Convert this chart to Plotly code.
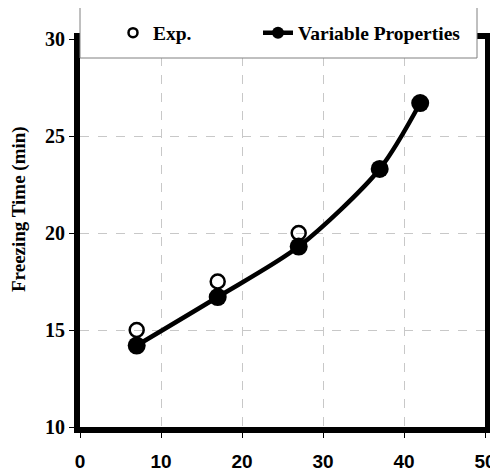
import plotly.graph_objects as go

exp_x = [7, 17, 27]
exp_y = [15.0, 17.5, 20.0]
var_x = [7, 17, 27, 37, 42]
var_y = [14.2, 16.7, 19.3, 23.3, 26.7]
x_ticks = [0, 10, 20, 30, 40, 50]
y_ticks = [10, 15, 20, 25, 30]

fig = go.Figure()
fig.add_trace(go.Scatter(
    x=exp_x, y=exp_y, mode="markers", name="Exp.", showlegend=False,
    marker=dict(symbol="circle-open", size=14, color="black", line=dict(width=2.5)),
))
fig.add_trace(go.Scatter(
    x=var_x, y=var_y, mode="lines+markers", name="Variable Properties", showlegend=False,
    line=dict(color="black", width=4.5, shape="spline", smoothing=0.8),
    marker=dict(symbol="circle", size=18, color="black"),
))
# legend entries (smaller symbols, as in the reference legend)
fig.add_trace(go.Scatter(
    x=[None], y=[None], mode="markers", name="<b>Exp.</b>", legend="legend",
    marker=dict(symbol="circle-open", size=9, color="black", line=dict(width=2.5)),
))
fig.add_trace(go.Scatter(
    x=[None], y=[None], mode="lines+markers", name="<b>Variable Properties</b>",
    legend="legend2",
    line=dict(color="black", width=4.5),
    marker=dict(symbol="circle", size=12, color="black"),
))

PW, PH = 405, 388  # plot area size in px
leg_common = dict(
    orientation="h", yanchor="middle", xanchor="left", y=1 + (39 - 33) / PH,
    bgcolor="rgba(0,0,0,0)", borderwidth=0,
    font=dict(family="Liberation Serif", size=19.5, color="black"),
)

# page has an 8px body margin: figure origin at (8, 8)
fig.update_layout(
    width=490, height=464,
    margin=dict(l=72, r=13, t=31, b=45, autoexpand=False),
    paper_bgcolor="white", plot_bgcolor="white",
    showlegend=True,
    legend=dict(leg_common, x=(113 - 80) / PW),
    legend2=dict(leg_common, x=(258 - 80) / PW),
    xaxis=dict(
        range=[0, 50], tickvals=x_ticks, showline=True, linecolor="black", linewidth=6,
        mirror=True, ticks="outside", ticklen=5, tickcolor="black", tickwidth=1,
        showgrid=True, gridcolor="#c8c8c8", griddash="dash", gridwidth=1, zeroline=False,
        ticklabelstandoff=7, automargin=False,
        tickfont=dict(family="Liberation Sans", size=19, color="black", weight="bold"),
    ),
    yaxis=dict(
        range=[10, 30], tickvals=y_ticks, showline=True, linecolor="black", linewidth=6,
        mirror=True, ticks="outside", ticklen=5, tickcolor="black", tickwidth=1,
        showgrid=True, gridcolor="#c8c8c8", griddash="dash", gridwidth=1, zeroline=False,
        automargin=False,
        tickfont=dict(family="Liberation Serif", size=20, color="black", weight="bold"),
    ),
    annotations=[dict(
        text="<b>Freezing Time (min)</b>", textangle=-90, showarrow=False,
        xref="paper", yref="paper", x=(19 - 80) / PW, y=1 - (209 - 39) / PH,
        xanchor="center", yanchor="middle",
        font=dict(family="Liberation Serif", size=19, color="black"),
    )],
    shapes=[dict(
        type="rect", xref="paper", yref="paper",
        x0=0.0, x1=(477 - 80) / PW, y0=1 - (58 - 39) / PH, y1=1 + (39 - 5) / PH,
        fillcolor="white", line=dict(color="#808080", width=1), layer="above",
    )],
)
fig.write_html("out.html")
